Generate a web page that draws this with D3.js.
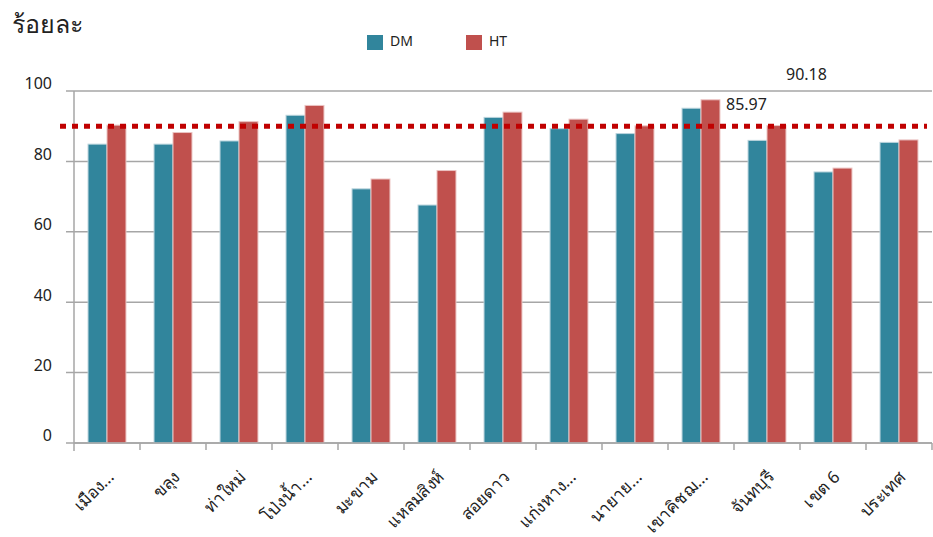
<!DOCTYPE html>
<html>
<head>
<meta charset="utf-8">
<script src="https://cdn.jsdelivr.net/npm/d3@7"></script>
<style>
  body { margin: 0; background: #fff; }
  svg text { font-family: "Noto Sans", "DejaVu Sans", sans-serif; fill: #222; }
</style>
</head>
<body>
<script>
// chart size
var width = 933,
    height = 537;

// data
var districts = ["เมือง...", "ขลุง", "ท่าใหม่", "โป่งน้ำ...", "มะขาม", "แหลมสิงห์", "สอยดาว",
                 "แก่งหาง...", "นายาย...", "เขาคิชฌ...", "จันทบุรี", "เขต 6", "ประเทศ"];
var dmValues = [84.9, 84.9, 85.8, 93.1, 72.2, 67.6, 92.5, 89.3, 87.9, 95.1, 85.97, 77.0, 85.4];
var htValues = [90.3, 88.2, 91.3, 95.9, 75.0, 77.4, 94.0, 92.0, 90.1, 97.5, 90.18, 78.1, 86.1];
var seriesNames = ["DM", "HT"];
var yTicks = [0, 20, 40, 60, 80, 100];
var targetValue = 90;

var colors = ["#31859C", "#C0504D"];

var margin = {top: 91, right: 1, bottom: 94, left: 74};

var svg = d3.select("body").append("svg")
    .attr("width", width)
    .attr("height", height);

var x = d3.scaleBand()
    .domain(districts)
    .range([margin.left, width - margin.right])
    .paddingInner(0)
    .paddingOuter(0);

var y = d3.scaleLinear()
    .domain([0, 100])
    .range([height - margin.bottom, margin.top]);

var xSub = d3.scaleBand()
    .domain(seriesNames)
    .range([0, x.bandwidth()])
    .paddingOuter(0.74)
    .paddingInner(0);

// gridlines + y labels
var grid = svg.append("g").attr("class", "grid");
grid.selectAll("line")
    .data(yTicks)
    .enter().append("line")
    .attr("x1", margin.left - 8)
    .attr("x2", width - margin.right)
    .attr("y1", function(d) { return y(d); })
    .attr("y2", function(d) { return y(d); })
    .style("stroke", "#a6a6a6")
    .style("stroke-width", 1.5);

grid.selectAll("text")
    .data(yTicks)
    .enter().append("text")
    .attr("x", margin.left - 22)
    .attr("y", function(d) { return y(d); })
    .attr("dy", "-0.1em")
    .attr("text-anchor", "end")
    .attr("font-size", 16)
    .text(function(d) { return d; });

// bars
var rows = districts.map(function(d, i) {
  return {name: d, values: [dmValues[i], htValues[i]]};
});

var groups = svg.selectAll("g.district")
    .data(rows)
    .enter().append("g")
    .attr("class", "district")
    .attr("transform", function(d) { return "translate(" + x(d.name) + ",0)"; });

groups.selectAll("rect")
    .data(function(d) {
      return d.values.map(function(v, i) { return {key: seriesNames[i], value: v, i: i}; });
    })
    .enter().append("rect")
    .attr("x", function(d) { return xSub(d.key); })
    .attr("width", xSub.bandwidth())
    .attr("y", function(d) { return y(d.value); })
    .attr("height", function(d) { return y(0) - y(d.value); })
    .style("fill", function(d) { return colors[d.i]; })
    .style("stroke", function(d) { return d.i == 0 ? "#b9d3dc" : "#ebc3c2"; })
    .style("stroke-width", 1);

// axes lines
svg.append("line")
    .attr("x1", margin.left).attr("x2", margin.left)
    .attr("y1", y(100)).attr("y2", y(0) + 8)
    .style("stroke", "#a6a6a6").style("stroke-width", 1.5);

svg.append("line")
    .attr("x1", margin.left).attr("x2", width - margin.right)
    .attr("y1", y(0)).attr("y2", y(0))
    .style("stroke", "#a6a6a6").style("stroke-width", 1.5);

svg.selectAll("line.xtick")
    .data(districts)
    .enter().append("line")
    .attr("class", "xtick")
    .attr("x1", function(d) { return x(d) + x.bandwidth(); })
    .attr("x2", function(d) { return x(d) + x.bandwidth(); })
    .attr("y1", y(0)).attr("y2", y(0) + 7)
    .style("stroke", "#a6a6a6").style("stroke-width", 1.5);

// x labels, rotated
svg.selectAll("text.xlabel")
    .data(districts)
    .enter().append("text")
    .attr("class", "xlabel")
    .attr("text-anchor", "end")
    .attr("font-size", 17)
    .attr("transform", function(d) {
      var cx = x(d) + x.bandwidth() / 2 + 8;
      var cy = y(0) + 35;
      return "translate(" + cx + "," + cy + ") rotate(-45)";
    })
    .text(function(d) { return d; });

// target dotted line
svg.append("line")
    .attr("x1", margin.left - 14)
    .attr("x2", width - 6)
    .attr("y1", y(targetValue))
    .attr("y2", y(targetValue))
    .style("stroke", "#C00000")
    .style("stroke-width", 5)
    .style("stroke-dasharray", "6,6");

// stray data labels for จันทบุรี
var chan = "จันทบุรี";
svg.append("text")
    .attr("x", x(chan) - 8)
    .attr("y", y(96.3))
    .attr("dy", "0.35em")
    .attr("font-size", 16)
    .text(dmValues[districts.indexOf(chan)].toFixed(2));
svg.append("text")
    .attr("x", x(chan) + 52)
    .attr("y", y(104.6))
    .attr("dy", "0.35em")
    .attr("font-size", 16)
    .text(htValues[districts.indexOf(chan)].toFixed(2));

// title
svg.append("text")
    .attr("x", 12)
    .attr("y", 33)
    .attr("font-size", 25)
    .text("ร้อยละ");

// legend
var legend = svg.selectAll("g.legend")
    .data(seriesNames)
    .enter().append("g")
    .attr("class", "legend")
    .attr("transform", function(d, i) { return "translate(" + (367 + i * 99) + ",35)"; });

legend.append("rect")
    .attr("width", 16).attr("height", 15)
    .style("fill", function(d, i) { return colors[i]; });

legend.append("text")
    .attr("x", 23)
    .attr("y", 6)
    .attr("dy", "0.35em")
    .attr("font-size", 14)
    .text(function(d) { return d; });
</script>
</body>
</html>
